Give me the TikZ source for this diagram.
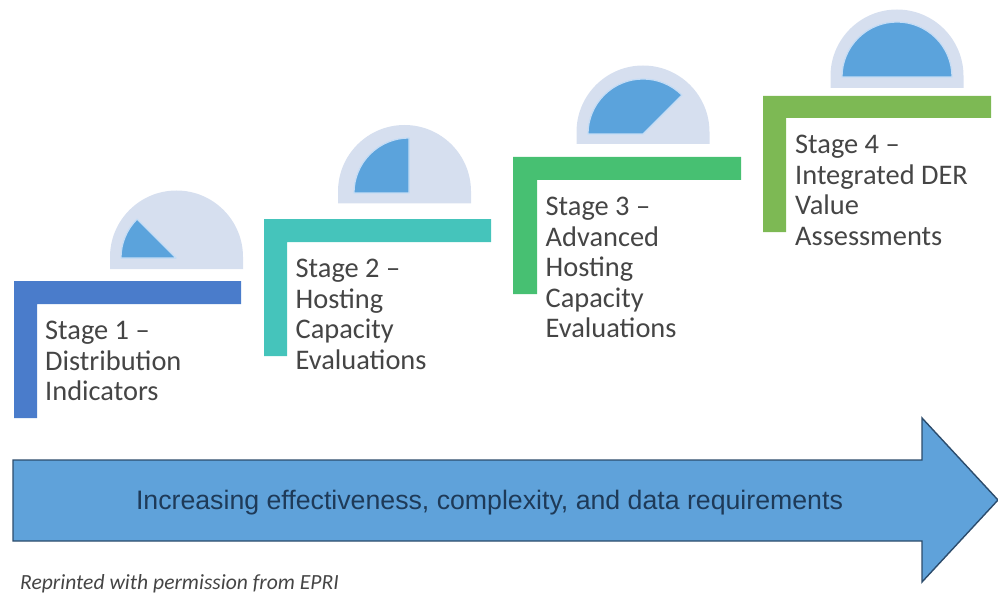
\documentclass[tikz,border=0pt]{standalone}
\usepackage{fontspec}
\setmainfont{Carlito}
\newfontfamily\arrowfont{Liberation Sans}
\definecolor{gaugeback}{HTML}{D6DFEF}
\definecolor{gaugefill}{HTML}{5BA3DC}
\definecolor{gaugeedge}{HTML}{C4DCF5}
\definecolor{stageA}{HTML}{4A7CCB}
\definecolor{stageB}{HTML}{45C4BB}
\definecolor{stageC}{HTML}{47C072}
\definecolor{stageD}{HTML}{7DB954}
\definecolor{stagetext}{HTML}{454545}
\definecolor{arrowfill}{HTML}{5FA2DA}
\definecolor{arrowedge}{HTML}{2C4C6C}
\definecolor{arrowtext}{HTML}{1E3A58}
\tikzset{
  stagelabel/.style={anchor=north west,align=left,inner sep=0pt,text=stagetext,
    font=\fontsize{28.4}{30.5}\selectfont},
  gaugeouter/.style={fill=gaugeback,draw=none},
  gaugeinner/.style={fill=gaugefill,draw=gaugeedge,line width=1.2pt,line join=round},
}
% #1 centre x, #2 base y of the outer half disc
\newcommand{\gaugeback}[2]{\fill[gaugeouter] (#1-66.5,#2) -- (#1-66.5,#2-12) arc[start angle=180,end angle=0,radius=66.5pt] -- (#1+66.5,#2) -- cycle;}
\begin{document}
\begin{tikzpicture}[x=1pt,y=-1pt]
\useasboundingbox (0,0) rectangle (998,596);
% gauges
\gaugeback{176.5}{269}
\draw[gaugeinner] (176,258) -- (121,258) arc[start angle=180,end angle=135,radius=55pt] -- cycle;
\gaugeback{404.5}{203.5}
\draw[gaugeinner] (409,193) -- (354,193) arc[start angle=180,end angle=90,radius=55pt] -- cycle;
\gaugeback{643}{144}
\draw[gaugeinner] (643,134) -- (588,134) arc[start angle=180,end angle=45,radius=55pt] -- cycle;
\gaugeback{897}{88}
\draw[gaugeinner] (897,77) -- (842,77) arc[start angle=180,end angle=0,radius=55pt] -- cycle;
% stage brackets
\fill[stageA] (14,281) -- (241,281) -- (241,304) -- (37,304) -- (37,418) -- (14,418) -- cycle;
\fill[stageB] (264,219) -- (491,219) -- (491,242) -- (287,242) -- (287,356) -- (264,356) -- cycle;
\fill[stageC] (513,157) -- (741,157) -- (741,180) -- (537,180) -- (537,294) -- (513,294) -- cycle;
\fill[stageD] (763,96) -- (991,96) -- (991,118) -- (786,118) -- (786,232) -- (763,232) -- cycle;
% labels
\node[stagelabel] (s1) at (45,321) {Stage 1 –\\Distribution\\Indicators};
\node[stagelabel] (s2) at (295.5,259) {Stage 2 –\\Hosting\\Capacity\\Evaluations};
\node[stagelabel] (s3) at (545.5,197) {Stage 3 –\\Advanced\\Hosting\\Capacity\\Evaluations};
\node[stagelabel] (s4) at (795,135) {Stage 4 –\\Integrated DER\\Value\\Assessments};
% big arrow
\draw[fill=arrowfill,draw=arrowedge,line width=1.4pt,line join=miter]
  (13,460) -- (922,460) -- (922,418) -- (998,500) -- (922,582) -- (922,541) -- (13,541) -- cycle;
\node[font=\arrowfont\fontsize{26.7}{30}\selectfont,text=arrowtext,inner sep=0pt] (title) at (489.5,503) {Increasing effectiveness, complexity, and data requirements};
\node[anchor=west,inner sep=0pt,font=\itshape\fontsize{21.6}{24}\selectfont,text=stagetext] (credit) at (20,584) {Reprinted with permission from EPRI};
\end{tikzpicture}
\end{document}
